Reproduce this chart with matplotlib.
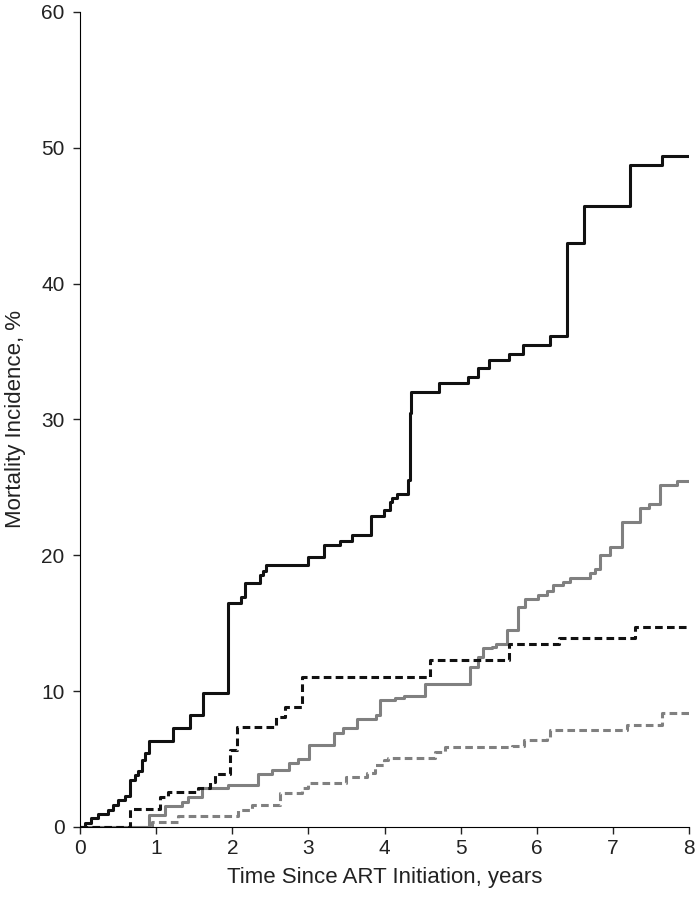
import matplotlib.pyplot as plt

# Kaplan-Meier style cumulative mortality curves
black_solid_t = [0, 0.066, 0.145, 0.24, 0.37, 0.43, 0.50, 0.59, 0.66, 0.72, 0.76, 0.81, 0.85,
                 0.91, 1.22, 1.45, 1.62, 1.94, 2.12, 2.17, 2.37, 2.41, 2.44, 2.99, 3.21, 3.42,
                 3.57, 3.82, 3.99, 4.07, 4.10, 4.16, 4.31, 4.33, 4.35, 4.72, 5.10, 5.23, 5.37,
                 5.63, 5.82, 6.17, 6.40, 6.62, 7.23, 7.65, 8.0]
black_solid_v = [0, 0.32, 0.66, 0.96, 1.25, 1.62, 1.99, 2.28, 3.46, 3.83, 4.12, 4.93, 5.45,
                 6.33, 7.29, 8.25, 9.87, 16.47, 16.9, 17.94, 18.56, 18.87, 19.29, 19.86, 20.77,
                 21.08, 21.5, 22.9, 23.34, 23.95, 24.25, 24.5, 25.55, 30.46, 32.03, 32.7, 33.09,
                 33.82, 34.39, 34.8, 35.45, 36.16, 42.98, 45.7, 48.7, 49.36, 49.36]

black_dash_t = [0, 0.66, 1.05, 1.15, 1.55, 1.71, 1.77, 1.97, 2.06, 2.58, 2.69, 2.91, 4.60,
                5.64, 6.29, 7.29, 8.0]
black_dash_v = [0, 1.30, 2.23, 2.55, 2.85, 3.34, 3.88, 5.67, 7.39, 8.07, 8.86, 11.02, 12.3,
                13.5, 13.94, 14.75, 14.75]

gray_solid_t = [0, 0.91, 1.12, 1.34, 1.42, 1.60, 1.95, 2.34, 2.52, 2.75, 2.87, 3.01, 3.34,
                3.45, 3.64, 3.89, 3.94, 4.14, 4.25, 4.53, 5.12, 5.23, 5.29, 5.41, 5.47, 5.61,
                5.76, 5.85, 6.02, 6.13, 6.22, 6.35, 6.44, 6.70, 6.77, 6.83, 6.96, 7.12, 7.36,
                7.47, 7.62, 7.84, 8.0]
gray_solid_v = [0, 0.88, 1.55, 1.86, 2.23, 2.85, 3.09, 3.9, 4.2, 4.74, 5.0, 6.04, 6.9, 7.31,
                7.95, 8.25, 9.35, 9.47, 9.65, 10.5, 11.76, 12.5, 13.16, 13.28, 13.48, 14.5,
                16.22, 16.79, 17.08, 17.38, 17.82, 18.07, 18.31, 18.68, 18.98, 20.03, 20.6,
                22.48, 23.47, 23.77, 25.18, 25.5, 25.5]

gray_dash_t = [0, 0.94, 1.29, 2.08, 2.26, 2.63, 2.91, 3.0, 3.50, 3.77, 3.88, 3.99, 4.05,
               4.66, 4.80, 5.67, 5.83, 6.13, 6.18, 7.18, 7.64, 8.0]
gray_dash_v = [0, 0.39, 0.81, 1.25, 1.62, 2.53, 2.85, 3.26, 3.71, 4.0, 4.57, 4.93, 5.1,
               5.55, 5.91, 5.96, 6.4, 6.65, 7.14, 7.49, 8.42, 8.42]

x_ticks = list(range(0, 9))
y_ticks = list(range(0, 61, 10))

plt.rcParams['font.family'] = ['Liberation Sans', 'DejaVu Sans']

fig = plt.figure(figsize=(6.97, 8.99), dpi=100)
ax = fig.add_axes([0.1148, 0.0801, 0.8737, 0.9066])

gray = '#808080'
ax.step(gray_dash_t, gray_dash_v, where='post', color=gray, lw=2.2, dashes=(2.5, 1.4))
ax.step(gray_solid_t, gray_solid_v, where='post', color=gray, lw=2.2)
ax.step(black_dash_t, black_dash_v, where='post', color='#111111', lw=2.2, dashes=(2.5, 1.4))
ax.step(black_solid_t, black_solid_v, where='post', color='#111111', lw=2.2)

ax.set_xlim(0, 8)
ax.set_ylim(0, 60)
ax.set_xticks(x_ticks)
ax.set_yticks(y_ticks)
ax.tick_params(labelsize=15, length=5, width=1, direction='out', colors='#222222')
ax.tick_params(axis='y', pad=6)
ax.tick_params(axis='x', pad=4)
ax.spines['top'].set_visible(False)
ax.spines['right'].set_visible(False)

ax.set_xlabel('Time Since ART Initiation, years', fontsize=16, color='#222222', labelpad=6)
ax.set_ylabel('Mortality Incidence, %', fontsize=16, color='#222222', labelpad=11)

fig.savefig('out.png', dpi=100)
